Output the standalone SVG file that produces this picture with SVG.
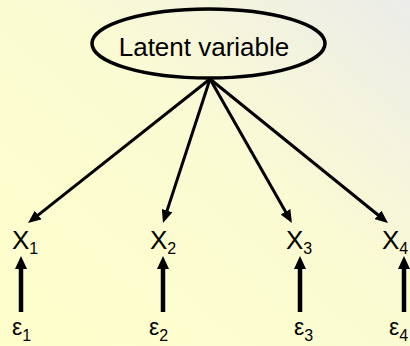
<svg xmlns="http://www.w3.org/2000/svg" width="410" height="346" viewBox="0 0 410 346">
<defs>
<linearGradient id="bg" x1="0" y1="1" x2="1" y2="0">
<stop offset="0" stop-color="#ffffcc"/>
<stop offset="0.55" stop-color="#fbfbd3"/>
<stop offset="1" stop-color="#ececea"/>
</linearGradient>
<marker id="ah" markerUnits="userSpaceOnUse" markerWidth="13" markerHeight="11" refX="5" refY="5.5" orient="auto">
<path d="M0,0 L13,5.5 L0,11 z" fill="#000"/>
</marker>
<marker id="ahu" markerUnits="userSpaceOnUse" markerWidth="13" markerHeight="12" refX="5" refY="6" orient="auto">
<path d="M0,0 L13,6 L0,12 z" fill="#000"/>
</marker>
</defs>
<style>
.t{font-family:"Liberation Sans",Arial,sans-serif;fill:#000}
.c{stroke:#000;stroke-width:3;fill:none}
.u{stroke:#000;stroke-width:4.5;fill:none}
</style>
<rect width="410" height="346" fill="url(#bg)"/>
<g id="latent">
<ellipse cx="208.5" cy="43.5" rx="116.5" ry="34.5" fill="none" stroke="#000" stroke-width="3.5"/>
<text class="t" x="204" y="56" font-size="26" text-anchor="middle">Latent variable</text>
</g>
<g id="x1"><text class="t" x="12" y="249" font-size="26">X<tspan font-size="16" dy="5">1</tspan></text></g>
<g id="x2"><text class="t" x="150" y="249" font-size="26">X<tspan font-size="16" dy="5">2</tspan></text></g>
<g id="x3"><text class="t" x="286" y="249" font-size="26">X<tspan font-size="16" dy="5">3</tspan></text></g>
<g id="x4"><text class="t" x="382" y="249" font-size="26">X<tspan font-size="16" dy="5">4</tspan></text></g>
<g id="e1"><text class="t" x="12" y="335" font-size="23">ε<tspan font-size="16" dy="6">1</tspan></text></g>
<g id="e2"><text class="t" x="149" y="335" font-size="23">ε<tspan font-size="16" dy="6">2</tspan></text></g>
<g id="e3"><text class="t" x="294" y="335" font-size="23">ε<tspan font-size="16" dy="6">3</tspan></text></g>
<g id="e4"><text class="t" x="389" y="335" font-size="23">ε<tspan font-size="16" dy="6">4</tspan></text></g>
<g id="connectors">
<line class="c" x1="210" y1="79" x2="34.3" y2="218.1" marker-end="url(#ah)"/>
<line class="c" x1="210" y1="79" x2="165.5" y2="215.4" marker-end="url(#ah)"/>
<line class="c" x1="210" y1="79" x2="288" y2="216.1" marker-end="url(#ah)"/>
<line class="c" x1="210" y1="79" x2="381.8" y2="218" marker-end="url(#ah)"/>
<line class="u" x1="21" y1="312" x2="21" y2="264" marker-end="url(#ahu)"/>
<line class="u" x1="163" y1="312" x2="163" y2="264" marker-end="url(#ahu)"/>
<line class="u" x1="300" y1="312" x2="300" y2="264" marker-end="url(#ahu)"/>
<line class="u" x1="404" y1="312" x2="404" y2="264" marker-end="url(#ahu)"/>
</g>
</svg>
